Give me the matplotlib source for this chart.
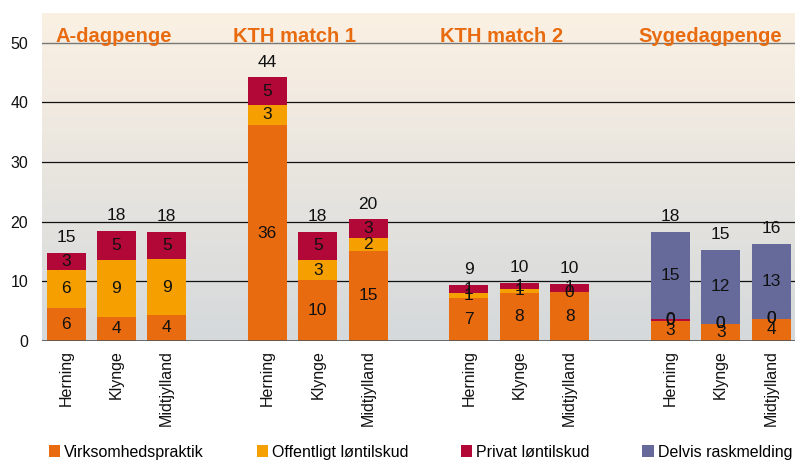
import matplotlib
matplotlib.use("Agg")
import matplotlib.pyplot as plt
import numpy as np
from matplotlib.colors import LinearSegmentedColormap
from matplotlib.patches import Patch

plt.rcParams["font.family"] = ["Liberation Sans", "DejaVu Sans"]

# data
regions = ["A-dagpenge", "KTH match 1", "KTH match 2", "Sygedagpenge"]
areas = ["Herning", "Klynge", "Midtjylland"]
series_names = ["Virksomhedspraktik", "Offentligt løntilskud", "Privat løntilskud",
                "Delvis raskmelding"]
virksomhed = [5.6, 4.1, 4.4, 36.2, 10.2, 15.1, 7.2, 8.1, 8.2, 3.4, 2.9, 3.7]
offentligt = [6.3, 9.4, 9.3, 3.4, 3.4, 2.1, 0.8, 0.6, 0.0, 0.0, 0.0, 0.0]
privat = [2.9, 4.9, 4.6, 4.6, 4.7, 3.2, 1.4, 1.0, 1.4, 0.3, 0.0, 0.0]
delvis = [np.nan] * 9 + [14.6, 12.4, 12.6]

colors = ["#E96B10", "#F5A000", "#B20838", "#656A9A"]
title_color = "#E96B10"

# layout: 3 bars per region, one empty slot between regions
pos = np.array([g * 4 + i for g in range(len(regions)) for i in range(len(areas))], dtype=float)
title_x = [0.94, 4.53, 8.64, 12.8]

fig = plt.figure(figsize=(7.95, 4.61), dpi=100)
ax = fig.add_axes([42 / 795, 120 / 461, 1 - 42 / 795, 328 / 461])

# background gradient
cmap = LinearSegmentedColormap.from_list("bg", ["#D5D9DB", "#FBF1E3"])
ax.imshow(np.linspace(0, 1, 256).reshape(-1, 1)[::-1], cmap=cmap, aspect="auto",
          extent=[0, 1, 0, 1], transform=ax.transAxes, zorder=0)

for y in [10, 20, 30, 40]:
    ax.axhline(y, color="#111111", lw=0.9, zorder=1)
ax.axhline(50, color="#777777", lw=1.0, zorder=1)
ax.axhline(0, color="#555555", lw=1.2, zorder=4)

width = 0.775
bottom = np.zeros(len(pos))
for vals, col in zip([virksomhed, offentligt, privat, delvis], colors):
    v = np.array(vals, dtype=float)
    h = np.nan_to_num(v)
    ax.bar(pos, h, width, bottom=bottom, color=col, zorder=2)
    for x, b, val in zip(pos, bottom, v):
        if np.isnan(val):
            continue
        ax.text(x, b + val / 2, f"{val:.0f}", ha="center", va="center",
                fontsize=12.5, color="#111111", zorder=5)
    bottom = bottom + h

for x, tot in zip(pos, bottom):
    ax.annotate(f"{tot:.0f}", (x, tot), xytext=(0, 11), textcoords="offset points",
                ha="center", va="center", fontsize=12.5, color="#111111", zorder=5)

for x, name in zip(title_x, regions):
    ax.text(x, 50.1, name, ha="center", va="baseline", fontsize=14.5,
            fontweight="bold", color=title_color, zorder=5)

ax.set_xlim(-0.477, 14.476)
ax.set_ylim(0, 55)
ax.set_yticks([0, 10, 20, 30, 40, 50])
ax.set_xticks(pos, areas * len(regions), rotation=90, va="top")
ax.tick_params(axis="both", length=0, labelsize=11.5, colors="#111111")
ax.tick_params(axis="y", pad=10)
ax.tick_params(axis="x", pad=6.5)
for s in ax.spines.values():
    s.set_visible(False)

handles = [Patch(facecolor=c, edgecolor="none") for c in colors]
fig.legend(handles, series_names, loc="center left", bbox_to_anchor=(49 / 795, 1 - 452 / 461),
           ncol=4, frameon=False, fontsize=11.5, handlelength=0.7, handleheight=0.7,
           handletextpad=0.25, columnspacing=3.3, borderpad=0, borderaxespad=0)

fig.savefig("out.png", dpi=100)
